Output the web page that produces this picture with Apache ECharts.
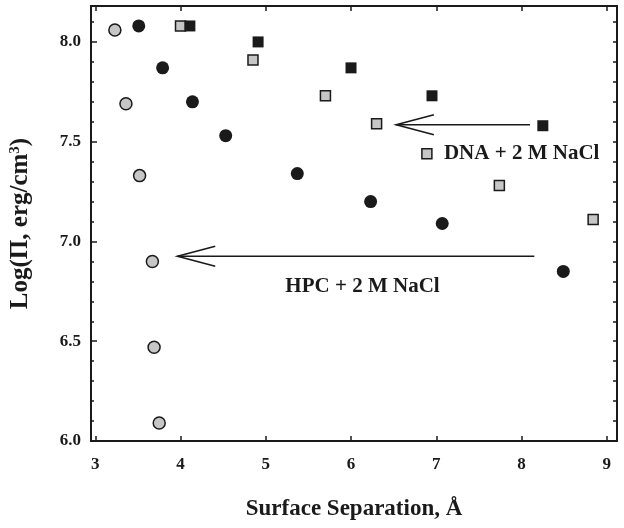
<!DOCTYPE html>
<html>
<head>
<meta charset="utf-8">
<script src="https://cdn.jsdelivr.net/npm/echarts@6/dist/echarts.min.js"></script>
<style>
  html, body { margin: 0; padding: 0; background: #fff; }
  #chart-container { width: 624px; height: 528px; }
</style>
</head>
<body>
<div id="chart-container"></div>
<script>
var chartDom = document.getElementById('chart-container');
var myChart = echarts.init(chartDom);
var option;

// HPC + 2 M NaCl (black circles) and its second set (gray circles)
var hpcBlack = [[3.51, 8.08], [3.79, 7.87], [4.14, 7.70], [4.53, 7.53], [5.37, 7.34], [6.23, 7.20], [7.07, 7.09], [8.49, 6.85]];
var hpcGray = [[3.23, 8.06], [3.36, 7.69], [3.52, 7.33], [3.67, 6.90], [3.69, 6.47], [3.75, 6.09]];
// DNA + 2 M NaCl (black squares) and its second set (gray squares)
var dnaBlack = [[4.11, 8.08], [4.91, 8.00], [6.00, 7.87], [6.95, 7.73], [8.25, 7.58]];
var dnaGray = [[4.00, 8.08], [4.85, 7.91], [5.70, 7.73], [6.30, 7.59], [6.89, 7.44], [7.74, 7.28], [8.84, 7.11]];

// arrows: [fromX, fromY, toX, toY]
var arrows = [[8.10, 7.585, 6.53, 7.585], [8.15, 6.926, 3.965, 6.926]];
// text notes: [x, y, text]
var notes = [[7.09, 7.44, 'DNA + 2 M NaCl'], [5.23, 6.772, 'HPC + 2 M NaCl']];

var xTicks = [3, 4, 5, 6, 7, 8, 9];
var yMajor = [6.0, 6.5, 7.0, 7.5, 8.0];
var yMinor = [6.1, 6.2, 6.3, 6.4, 6.6, 6.7, 6.8, 6.9, 7.1, 7.2, 7.3, 7.4, 7.6, 7.7, 7.8, 7.9, 8.1];
var yAll = [6.0, 6.1, 6.2, 6.3, 6.4, 6.5, 6.6, 6.7, 6.8, 6.9, 7.0, 7.1, 7.2, 7.3, 7.4, 7.5, 7.6, 7.7, 7.8, 7.9, 8.0, 8.1];

var font = 'Liberation Serif';
var ink = '#1a1a1a';
var gray = '#c6c6c6';

var axisLine = { show: true, lineStyle: { color: ink, width: 2 } };

option = {
  animation: false,
  grid: { left: 89, right: 7, top: 6, bottom: 87, containLabel: false },
  xAxis: [
    {
      type: 'value', position: 'bottom', min: 2.95, max: 9.12,
      axisLine: axisLine,
      axisTick: { inside: true, length: 5, customValues: xTicks, lineStyle: { color: ink, width: 1.5 } },
      axisLabel: { customValues: xTicks, margin: 15, color: ink, fontFamily: font, fontWeight: 'bold', fontSize: 17 },
      splitLine: { show: false },
      name: 'Surface Separation, Å', nameLocation: 'middle', nameGap: 57,
      nameTextStyle: { color: ink, fontFamily: font, fontWeight: 'bold', fontSize: 23 }
    },
    {
      type: 'value', position: 'top', min: 2.95, max: 9.12,
      axisLine: axisLine,
      axisTick: { inside: true, length: 5, customValues: xTicks, lineStyle: { color: ink, width: 1.5 } },
      axisLabel: { show: false },
      splitLine: { show: false }
    }
  ],
  yAxis: [
    {
      type: 'value', position: 'left', min: 6, max: 8.18,
      axisLine: axisLine,
      axisTick: { inside: true, length: 6, customValues: yMajor, lineStyle: { color: ink, width: 1.5 } },
      axisLabel: {
        customValues: yMajor, margin: 10, color: ink, fontFamily: font, fontWeight: 'bold', fontSize: 17,
        formatter: function (v) { return v.toFixed(1); }
      },
      splitLine: { show: false },
      name: '{a|Log(Π, erg/cm}{s|3}{a|)}', nameLocation: 'middle', nameGap: 57, nameRotate: 90,
      nameTextStyle: {
        rich: {
          a: { color: ink, fontFamily: font, fontWeight: 'bold', fontSize: 25 },
          s: { color: ink, fontFamily: font, fontWeight: 'bold', fontSize: 15, verticalAlign: 'top', padding: [0, 0, 11, 0] }
        }
      }
    },
    {
      type: 'value', position: 'left', min: 6, max: 8.18,
      axisLine: { show: false },
      axisTick: { inside: true, length: 3, customValues: yMinor, lineStyle: { color: ink, width: 1.5 } },
      axisLabel: { show: false },
      splitLine: { show: false }
    },
    {
      type: 'value', position: 'right', min: 6, max: 8.18,
      axisLine: axisLine,
      axisTick: { inside: true, length: 4, customValues: yAll, lineStyle: { color: ink, width: 1.5 } },
      axisLabel: { show: false },
      splitLine: { show: false }
    }
  ],
  series: [
    {
      type: 'custom',
      silent: true,
      data: arrows,
      renderItem: function (params, api) {
        var p1 = api.coord([api.value(0), api.value(1)]);
        var p2 = api.coord([api.value(2), api.value(3)]);
        var ang = Math.atan2(p1[1] - p2[1], p1[0] - p2[0]);
        var len = 39, spread = 0.26;
        var a1 = [p2[0] + len * Math.cos(ang + spread), p2[1] + len * Math.sin(ang + spread)];
        var a2 = [p2[0] + len * Math.cos(ang - spread), p2[1] + len * Math.sin(ang - spread)];
        var st = { stroke: ink, lineWidth: 1.6, fill: null };
        return {
          type: 'group',
          children: [
            { type: 'line', shape: { x1: p1[0], y1: p1[1], x2: p2[0], y2: p2[1] }, style: st },
            { type: 'polyline', shape: { points: [a1, p2, a2] }, style: st }
          ]
        };
      }
    },
    {
      type: 'scatter', data: hpcGray, symbol: 'circle', symbolSize: 12,
      itemStyle: { color: gray, borderColor: ink, borderWidth: 1.5, opacity: 1 }
    },
    {
      type: 'scatter', data: hpcBlack, symbol: 'circle', symbolSize: 13,
      itemStyle: { color: ink, opacity: 1 }
    },
    {
      type: 'scatter', data: dnaGray, symbol: 'rect', symbolSize: 10,
      itemStyle: { color: gray, borderColor: ink, borderWidth: 1.5, opacity: 1 }
    },
    {
      type: 'scatter', data: dnaBlack, symbol: 'rect', symbolSize: 11,
      itemStyle: { color: ink, opacity: 1 }
    },
    {
      type: 'scatter', data: notes, symbolSize: 0, silent: true,
      itemStyle: { opacity: 1 },
      label: {
        show: true, position: 'right', distance: 0, opacity: 1,
        formatter: function (p) { return p.data[2]; },
        color: ink, fontFamily: font, fontWeight: 'bold', fontSize: 21
      }
    }
  ]
};

option && myChart.setOption(option);
</script>
</body>
</html>
